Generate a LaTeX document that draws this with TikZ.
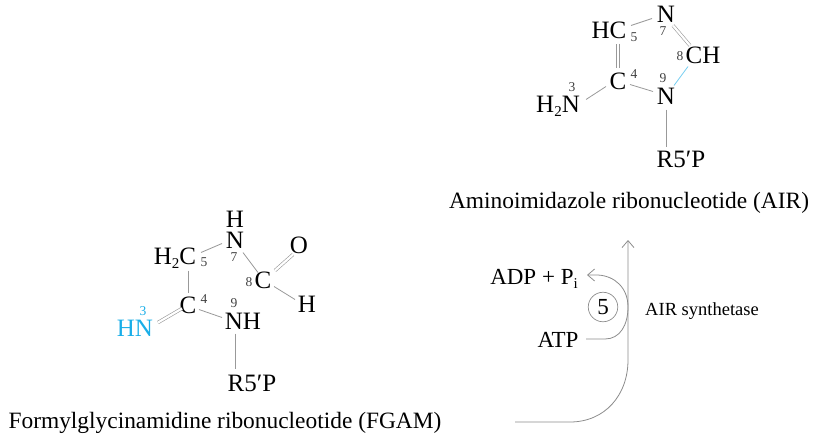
\documentclass[tikz,border=0pt]{standalone}
\usepackage{fontspec}
\setmainfont{Liberation Serif}
\usetikzlibrary{arrows.meta}
\newcommand{\subdown}[1]{\raisebox{-4pt}{\fontsize{15}{15}\selectfont #1}}
\tikzset{
 atom/.style={anchor=base,inner sep=0pt,yshift=-0.5pt,font=\fontsize{25}{25}\selectfont},
 lab/.style={anchor=base,inner sep=0pt,yshift=-0.7pt,font=\fontsize{23.4}{23.4}\selectfont},
 enz/.style={anchor=base,inner sep=0pt,font=\fontsize{23}{23}\selectfont},
 num/.style={inner sep=0pt,font=\fontsize{13.5}{13.5}\selectfont,text=black!75},
 bond/.style={draw=black!40,line width=0.8pt},
 dbl/.style={draw=black!40,line width=0.6pt,double=white,double distance=2.2pt},
 flow/.style={draw=black!45,line width=0.8pt},
 tip/.style={-{Straight Barb[length=7pt,width=12pt,line width=0.8pt]}},
}
\definecolor{cy}{HTML}{1AAEE8}
\begin{document}
\begin{tikzpicture}[x=1pt,y=-1pt]
\useasboundingbox (0,0) rectangle (817,442);
% AIR
\node[atom] (hc) at (609,38) {HC};
\node[atom] (n7a) at (666,22) {N};
\node[atom] (ch) at (703,63) {CH};
\node[atom] (n9a) at (666,104) {N};
\node[atom] (c4a) at (618,89) {C};
\node[atom] (h2n) at (558,112) {H\subdown{2}N};
\node[atom] (ra) at (681,167) {R5′P};
\node[lab] (aira) at (629,208) {Aminoimidazole ribonucleotide (AIR)};
\node[num] at (634,37) {5};
\node[num] at (663,31) {7};
\node[num] at (680,56) {8};
\node[num] at (663,78) {9};
\node[num] at (634,74) {4};
\node[num] at (572,87) {3};
\draw[bond] ([shift={(22,-13)}]hc.base) -- ([shift={(-14,-4)}]n7a.base);
\draw[dbl] ([shift={(9,5)}]hc.base) -- ([shift={(0,-22)}]c4a.base);
\draw[dbl] ([shift={(7,3)}]n7a.base) -- ([shift={(-13,-18)}]ch.base);
\draw[draw=cy!60,line width=0.8pt] ([shift={(-15,3)}]ch.base) -- ([shift={(8,-19)}]n9a.base);
\draw[bond] ([shift={(12,-5)}]c4a.base) -- ([shift={(-13,-13)}]n9a.base);
\draw[bond] ([shift={(-12,-3)}]c4a.base) -- ([shift={(28,-13)}]h2n.base);
\draw[bond] ([shift={(0,5)}]n9a.base) -- ([shift={(-15,-21)}]ra.base);
% FGAM
\node[atom] (h7) at (235,227) {H};
\node[atom] (n7f) at (235,248) {N};
\node[atom] (h2c) at (175,264) {H\subdown{2}C};
\node[atom] (c4f) at (188,313) {C};
\node[atom,text=cy] (hn) at (135,336) {HN};
\node[atom] (nh) at (243,329) {NH};
\node[atom] (c8f) at (263,288) {C};
\node[atom] (o) at (299,253) {O};
\node[atom] (hf) at (307,312) {H};
\node[atom] (rf) at (252,391) {R5′P};
\node[lab] (fgam) at (225,428) {Formylglycinamidine ribonucleotide (FGAM)};
\node[num] at (204,262) {5};
\node[num] at (234,257) {7};
\node[num] at (249,282) {8};
\node[num] at (234,303) {9};
\node[num] at (204,299) {4};
\node[num,text=cy] at (143,311) {3};
\draw[bond] ([shift={(26,-12)}]h2c.base) -- ([shift={(-13,-5)}]n7f.base);
\draw[bond] ([shift={(13,6)}]h2c.base) -- ([shift={(0,-21)}]c4f.base);
\draw[bond] ([shift={(11,-4)}]c4f.base) -- ([shift={(-21,-12)}]nh.base);
\draw[bond] ([shift={(-8,4)}]nh.base) -- ([shift={(-17,-23)}]rf.base);
\draw[bond] ([shift={(8,4)}]n7f.base) -- ([shift={(-5,-16)}]c8f.base);
\draw[dbl] ([shift={(12,-18)}]c8f.base) -- ([shift={(-6,1)}]o.base);
\draw[bond] ([shift={(11,-2)}]c8f.base) -- ([shift={(-12,-13)}]hf.base);
\draw[dbl] ([shift={(-6,-5)}]c4f.base) -- ([shift={(23,-14)}]hn.base);
% reaction
\coordinate (start) at (515,422);
\coordinate (end) at (628,240);
\node[enz] (adp) at (534,284) {ADP + P\subdown{i}};
\node[enz] (atp) at (558,347) {ATP};
\node[enz,font=\fontsize{18.5}{18.5}\selectfont] (syn) at (702,315) {AIR synthetase};
\node[draw=black!45,line width=0.7pt,circle,minimum size=29.5pt,inner sep=0pt,font=\fontsize{23}{23}\selectfont] (five) at (603,307) {5};
\draw[flow,tip] (start) -- (570,422) .. controls (605,422) and (628,395) .. (628,360) -- (end);
\draw[flow,tip] ([shift={(28,-8)}]atp.base) -- (605,339) .. controls (620,339) and (628,325) .. (628,307) .. controls (628,288) and (615,276) .. (598,275) -- (587,275);
\end{tikzpicture}
\end{document}
